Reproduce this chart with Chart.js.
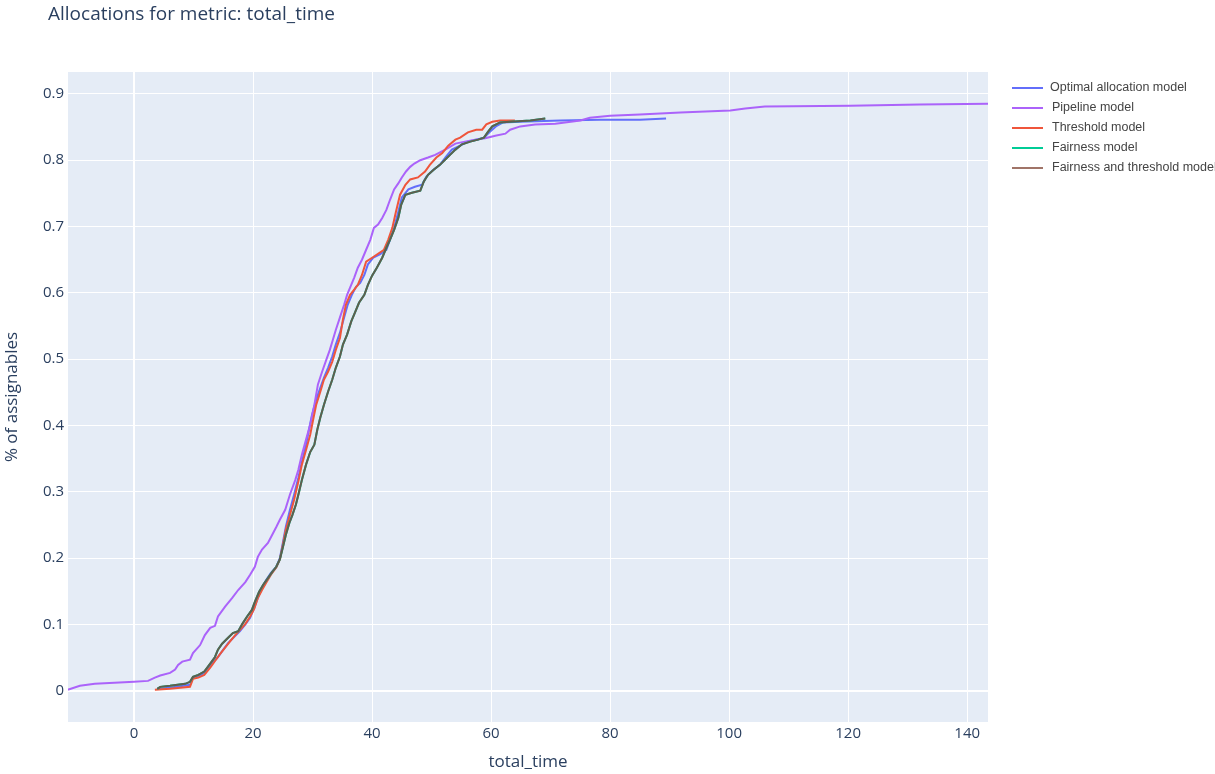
<!DOCTYPE html>
<html>
<head>
<meta charset="utf-8">
<script src="https://cdn.jsdelivr.net/npm/chart.js@4/dist/chart.umd.min.js"></script>
<style>
  html, body { margin: 0; padding: 0; background: #ffffff; }
  #wrap { width: 1215px; height: 774px; position: relative; }
</style>
</head>
<body>
<div id="wrap"><canvas id="c" width="1215" height="774"></canvas></div>
<script>
// Cumulative share of assignables allocated vs. total_time, one curve per model.
const chartTitle = 'Allocations for metric: total_time';
const xTitle = 'total_time';
const yTitle = '% of assignables';
const seriesNames = ['Optimal allocation model', 'Pipeline model', 'Threshold model', 'Fairness model', 'Fairness and threshold model'];

const optimalX = [3.9, 6, 9.4, 9.9, 11.1, 12.1, 13.1, 14.1, 15, 15.8, 16.8, 17.8, 18.7, 19.5, 20.2, 20.8, 21.5, 22.2, 23, 23.9, 24.5, 25, 25.5, 26.2, 26.9, 27.6, 28.2, 28.9, 29.4, 29.9, 30.6, 31.3, 31.9, 32.6, 33.3, 33.9, 34.6, 35.3, 35.9, 36.6, 37.3, 38, 38.7, 39.3, 40.2, 41.3, 42.4, 43, 43.7, 44.4, 45, 46.1, 47.2, 48.4, 49.1, 50.1, 51.4, 52.4, 53.4, 54.8, 56.1, 57.5, 58.8, 59.8, 60.8, 62, 64.9, 71.6, 78.3, 85, 89.4];
const optimalY = [0.003, 0.0045, 0.009, 0.02, 0.023, 0.029, 0.041, 0.051, 0.062, 0.072, 0.081, 0.09, 0.1, 0.11, 0.125, 0.14, 0.155, 0.167, 0.178, 0.187, 0.2, 0.223, 0.247, 0.273, 0.296, 0.321, 0.345, 0.371, 0.394, 0.416, 0.439, 0.457, 0.472, 0.487, 0.504, 0.522, 0.54, 0.563, 0.582, 0.597, 0.609, 0.615, 0.627, 0.643, 0.653, 0.658, 0.665, 0.68, 0.698, 0.722, 0.744, 0.756, 0.76, 0.763, 0.775, 0.784, 0.793, 0.805, 0.816, 0.822, 0.828, 0.831, 0.834, 0.843, 0.851, 0.857, 0.858, 0.86, 0.861, 0.861, 0.863];

const pipelineX = [-13, -11, -9.1, -6.6, 0, 2.35, 3.5, 4.4, 6.05, 6.9, 7.4, 8.1, 9.4, 9.9, 11.1, 11.9, 12.8, 13.6, 14.1, 15.3, 16.5, 17.5, 18.7, 19.5, 20.3, 20.8, 21.5, 22.5, 23.2, 23.9, 24.5, 25.4, 26.2, 27.1, 27.6, 28.2, 28.9, 29.6, 30.3, 30.9, 31.6, 32.3, 32.9, 33.4, 33.9, 34.6, 35.3, 35.8, 36.3, 37, 37.6, 38.3, 39, 39.7, 40.3, 41, 41.7, 42.4, 43, 43.7, 44.4, 45, 45.7, 46.4, 47.1, 48.1, 49.4, 50.6, 52.3, 54, 55.6, 57.3, 59, 60.7, 62.4, 63.2, 64.9, 67.4, 70.8, 75, 76.6, 80, 85, 91.8, 100.2, 102.7, 106, 120.3, 132, 143.5, 150];
const pipelineY = [0, 0.002, 0.0075, 0.0105, 0.0136, 0.015, 0.02, 0.023, 0.027, 0.032, 0.039, 0.044, 0.047, 0.057, 0.069, 0.084, 0.095, 0.098, 0.112, 0.127, 0.14, 0.152, 0.164, 0.175, 0.187, 0.202, 0.213, 0.223, 0.235, 0.247, 0.258, 0.273, 0.296, 0.318, 0.333, 0.356, 0.379, 0.401, 0.431, 0.462, 0.481, 0.499, 0.514, 0.529, 0.544, 0.563, 0.582, 0.597, 0.608, 0.623, 0.638, 0.65, 0.665, 0.68, 0.698, 0.703, 0.713, 0.725, 0.74, 0.756, 0.765, 0.774, 0.783, 0.79, 0.795, 0.8, 0.804, 0.808, 0.816, 0.825, 0.828, 0.831, 0.833, 0.837, 0.84, 0.846, 0.851, 0.854, 0.855, 0.86, 0.864, 0.867, 0.869, 0.872, 0.875, 0.878, 0.881, 0.882, 0.884, 0.885, 0.886];

const thresholdX = [3.5, 6.05, 9.4, 9.9, 10.8, 11.8, 12.8, 13.6, 14.5, 15.3, 16.1, 17, 17.8, 18.7, 19.5, 20.2, 20.8, 21.5, 22.2, 23, 23.9, 24.5, 25, 25.5, 26.2, 26.9, 27.6, 28.2, 28.9, 29.6, 30.1, 30.6, 31.3, 31.9, 32.6, 33.3, 33.9, 34.6, 35.1, 35.6, 36.3, 37, 37.6, 38.3, 39, 40, 41, 42, 42.7, 43.4, 44, 44.7, 45.6, 46.4, 47.7, 48.9, 49.7, 50.8, 51.8, 52.8, 54, 54.8, 56.1, 57.5, 58.5, 59.2, 60.2, 61.5, 64];
const thresholdY = [0.0015, 0.003, 0.006, 0.018, 0.02, 0.024, 0.035, 0.045, 0.056, 0.065, 0.074, 0.084, 0.092, 0.101, 0.112, 0.124, 0.14, 0.152, 0.163, 0.175, 0.186, 0.198, 0.22, 0.243, 0.265, 0.288, 0.315, 0.341, 0.363, 0.386, 0.409, 0.431, 0.451, 0.469, 0.481, 0.496, 0.514, 0.532, 0.56, 0.582, 0.597, 0.605, 0.612, 0.627, 0.647, 0.653, 0.659, 0.665, 0.68, 0.698, 0.722, 0.748, 0.763, 0.771, 0.774, 0.783, 0.793, 0.804, 0.811, 0.822, 0.831, 0.834, 0.842, 0.846, 0.846, 0.854, 0.858, 0.86, 0.86];

const fairnessX = [3.9, 4.4, 6.05, 8.6, 9.4, 9.9, 10.8, 11.8, 12.8, 13.6, 14.1, 14.8, 15.8, 16.6, 17.5, 18.2, 19, 19.8, 20.3, 21, 21.7, 22.5, 23.2, 23.9, 24.5, 25, 25.5, 26.1, 26.6, 27.2, 27.7, 28.2, 28.9, 29.6, 30.3, 30.8, 31.3, 31.9, 32.6, 33.3, 33.9, 34.6, 35.1, 35.8, 36.5, 37.1, 37.8, 38.7, 39.3, 40, 40.8, 41.7, 42.4, 43, 43.7, 44.4, 44.9, 45.6, 46.7, 48.1, 48.7, 49.4, 50.4, 51.4, 52.3, 53.1, 54, 55.1, 56.5, 57.8, 58.8, 59.5, 60.2, 61.5, 63.2, 66.6, 69.1];
const fairnessY = [0.003, 0.006, 0.0075, 0.0105, 0.0136, 0.021, 0.024, 0.029, 0.041, 0.051, 0.062, 0.071, 0.08, 0.087, 0.09, 0.101, 0.112, 0.122, 0.134, 0.149, 0.16, 0.17, 0.179, 0.187, 0.198, 0.216, 0.235, 0.253, 0.265, 0.281, 0.299, 0.318, 0.341, 0.36, 0.371, 0.394, 0.412, 0.431, 0.451, 0.469, 0.487, 0.504, 0.522, 0.537, 0.557, 0.57, 0.585, 0.597, 0.612, 0.626, 0.638, 0.653, 0.668, 0.68, 0.695, 0.713, 0.733, 0.748, 0.751, 0.754, 0.768, 0.778, 0.786, 0.793, 0.801, 0.808, 0.816, 0.824, 0.828, 0.831, 0.834, 0.843, 0.851, 0.857, 0.858, 0.86, 0.863];

// The combined model follows the fairness curve point for point.
const fairThresholdX = fairnessX.slice();
const fairThresholdY = fairnessY.slice();

const xTicks = [0, 20, 40, 60, 80, 100, 120, 140];
const yTicks = [0, 0.1, 0.2, 0.3, 0.4, 0.5, 0.6, 0.7, 0.8, 0.9];

const lineColors = ['#636efa', '#ab63fa', '#ef553b', '#00cc96', '#5f5d4e'];
const legendColors = ['#636efa', '#ab63fa', '#ef553b', '#00cc96', '#a07468'];

const toPoints = (xs, ys) => xs.map((x, i) => ({ x: x, y: ys[i] }));
const seriesData = [
  toPoints(optimalX, optimalY),
  toPoints(pipelineX, pipelineY),
  toPoints(thresholdX, thresholdY),
  toPoints(fairnessX, fairnessY),
  toPoints(fairThresholdX, fairThresholdY)
];

const TEXT = '#2a3f5f';
const FONT = "'Open Sans', 'DejaVu Sans', sans-serif";

const plotBackground = {
  id: 'plotBackground',
  beforeDraw(chart) {
    const { ctx, chartArea: a } = chart;
    ctx.save();
    ctx.fillStyle = '#e5ecf6';
    ctx.fillRect(a.left, a.top, a.right - a.left, a.bottom - a.top);
    ctx.restore();
  }
};

const headerAndLegend = {
  id: 'headerAndLegend',
  afterDraw(chart) {
    const { ctx } = chart;
    ctx.save();
    ctx.fillStyle = TEXT;
    ctx.font = "19px " + FONT;
    ctx.textBaseline = 'middle';
    ctx.textAlign = 'left';
    ctx.fillText(chartTitle, 48, 15);

    ctx.font = "12.5px 'Liberation Sans', Arial, sans-serif";
    chart.data.datasets.forEach((ds, i) => {
      const y = 88 + i * 20;
      ctx.strokeStyle = legendColors[i];
      ctx.lineWidth = 2;
      ctx.beginPath();
      ctx.moveTo(1012, y);
      ctx.lineTo(1043, y);
      ctx.stroke();
      ctx.fillStyle = '#444444';
      ctx.fillText(ds.label, i === 0 ? 1050 : 1052, y);
    });
    ctx.restore();
  }
};

new Chart(document.getElementById('c'), {
  type: 'line',
  data: {
    datasets: seriesNames.map((name, i) => ({
      label: name,
      data: seriesData[i],
      borderColor: lineColors[i],
      backgroundColor: lineColors[i],
      borderWidth: 2,
      pointRadius: 0,
      tension: 0,
      fill: false,
      order: seriesNames.length - 1 - i
    }))
  },
  options: {
    responsive: false,
    animation: false,
    devicePixelRatio: 1,
    parsing: true,
    layout: { padding: { left: 0, top: 72, right: 227, bottom: 0 } },
    plugins: {
      legend: { display: false },
      title: { display: false },
      tooltip: { enabled: false }
    },
    scales: {
      x: {
        type: 'linear',
        min: -11.1,
        max: 143.5,
        afterFit(s) { s.height = 52; },
        afterBuildTicks(s) { s.ticks = xTicks.map(v => ({ value: v })); },
        ticks: {
          includeBounds: false,
          color: TEXT,
          font: { family: FONT, size: 15 },
          padding: 3,
          maxRotation: 0,
          callback: v => String(v)
        },
        grid: {
          color: '#ffffff',
          lineWidth: c => (c.tick && c.tick.value === 0 ? 2 : 1),
          drawTicks: false
        },
        border: { display: false },
        title: {
          display: true,
          text: xTitle,
          color: TEXT,
          font: { family: FONT, size: 17 },
          padding: { top: 0, bottom: 1.8 }
        }
      },
      y: {
        type: 'linear',
        min: -0.047,
        max: 0.933,
        afterFit(s) { s.width = 68; },
        afterBuildTicks(s) { s.ticks = yTicks.map(v => ({ value: v })); },
        ticks: {
          includeBounds: false,
          color: TEXT,
          font: { family: FONT, size: 15 },
          padding: 4,
          callback: v => (v === 0 ? '0' : Number(v).toFixed(1))
        },
        grid: {
          color: '#ffffff',
          lineWidth: c => (c.tick && c.tick.value === 0 ? 2 : 1),
          drawTicks: false
        },
        border: { display: false },
        title: {
          display: true,
          text: yTitle,
          color: TEXT,
          font: { family: FONT, size: 17 },
          padding: { top: 1.8, bottom: 0 }
        }
      }
    }
  },
  plugins: [plotBackground, headerAndLegend]
});
</script>
</body>
</html>
